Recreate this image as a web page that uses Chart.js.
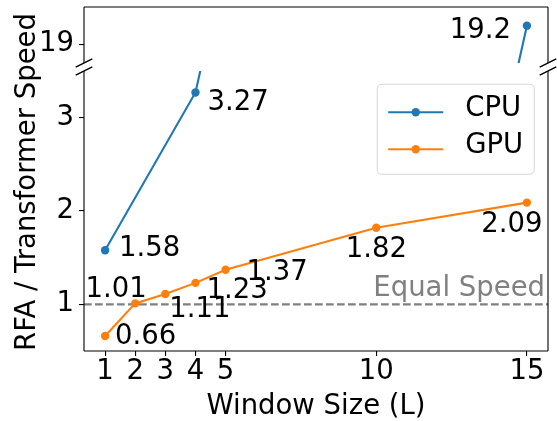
<!DOCTYPE html>
<html>
<head>
<meta charset="utf-8">
<script src="https://cdn.jsdelivr.net/npm/chart.js@4.4.1/dist/chart.umd.min.js"></script>
<style>
  html, body { margin: 0; padding: 0; background: #fff; }
  #wrap { position: relative; width: 557px; height: 421px; overflow: hidden; background: #fff; }
  #wrap canvas { position: absolute; left: 0; top: 0; }
</style>
</head>
<body>
<div id="wrap">
  <canvas id="lower" width="557" height="421"></canvas>
  <canvas id="upper" width="557" height="421"></canvas>
</div>
<script>
// ---------------- data ----------------
const seriesNames = ['CPU', 'GPU'];
const cpuWindows = [1, 4, 15];
const cpuSpeed = [1.58, 3.27, 19.2];
const gpuWindows = [1, 2, 3, 4, 5, 10, 15];
const gpuSpeed = [0.66, 1.01, 1.11, 1.23, 1.37, 1.82, 2.09];
const xTicks = [1, 2, 3, 4, 5, 10, 15];
const yTicksLower = [1, 2, 3];
const yTicksUpper = [19];
const equalSpeed = 1;
const refLabel = 'Equal Speed';
const xTitle = 'Window Size (L)';
const yTitle = 'RFA / Transformer Speed';
const xRange = [0.3, 15.7];
const lowerRange = [0.5, 3.5];
const upperRange = [18.8, 19.4];

// ---------------- style ----------------
const FONT = "'DejaVu Sans', sans-serif";
const FS = 27.5;
const CPU_C = '#1f77b4';
const GPU_C = '#ff7f0e';
const AXIS_W = 84;
// [dx, dy (to digit centre), align]
const cpuLabelStyle = [[14, -4, 'left'], [12, 8, 'left'], [-16, 2, 'right']];
const gpuLabelStyle = [[10, -2, 'left'], [-19, -16, 'center'], [4, 13, 'left'], [11, 5, 'left'], [21, 0, 'left'], [0, 19, 'center'], [-15, 19, 'center']];

Chart.defaults.font.family = FONT;

function makeDatasets() {
  const common = { borderWidth: 2.1, pointRadius: 4.2, pointHoverRadius: 4.2, pointBorderWidth: 0, tension: 0, clip: 0, fill: false };
  return [
    Object.assign({ label: seriesNames[0], data: cpuWindows.map((x, i) => ({ x: x, y: cpuSpeed[i] })),
      borderColor: CPU_C, backgroundColor: CPU_C, pointBackgroundColor: CPU_C, labelStyle: cpuLabelStyle }, common),
    Object.assign({ label: seriesNames[1], data: gpuWindows.map((x, i) => ({ x: x, y: gpuSpeed[i] })),
      borderColor: GPU_C, backgroundColor: GPU_C, pointBackgroundColor: GPU_C, labelStyle: gpuLabelStyle }, common)
  ];
}

function gridOpts() {
  return { display: true, drawOnChartArea: false, drawTicks: true, tickLength: 5, color: '#000', lineWidth: 1.1 };
}

function xScale(show) {
  return {
    type: 'linear', min: xRange[0], max: xRange[1], display: show,
    afterBuildTicks: s => { s.ticks = xTicks.map(v => ({ value: v })); },
    afterFit: s => { if (show) s.height = 70; s.paddingLeft = 0; s.paddingRight = 0; },
    ticks: { autoSkip: false, maxRotation: 0, minRotation: 0, padding: 2, color: '#000',
      font: { size: FS, lineHeight: 1 }, callback: v => String(v) },
    grid: gridOpts(),
    border: { display: false },
    title: { display: show, text: xTitle, color: '#000', font: { size: FS, lineHeight: 1 }, padding: { top: 0, bottom: 0 } }
  };
}

function yScale(range, ticks) {
  return {
    type: 'linear', min: range[0], max: range[1],
    afterBuildTicks: s => { s.ticks = ticks.map(v => ({ value: v })); },
    afterFit: s => { s.width = AXIS_W; s.paddingTop = 0; s.paddingBottom = 0; },
    ticks: { padding: 5, color: '#000', font: { size: FS, lineHeight: 1 }, callback: v => String(v) },
    grid: gridOpts(),
    border: { display: false }
  };
}

// spines + break marks
const spinePlugin = {
  id: 'spines',
  afterDatasetsDraw(chart, args, o) {
    const ctx = chart.ctx, a = chart.chartArea;
    ctx.save();
    ctx.strokeStyle = '#000';
    ctx.lineWidth = 1.1;
    ctx.beginPath();
    if (o.top) { ctx.moveTo(a.left, a.top); ctx.lineTo(a.right, a.top); }
    if (o.bottom) { ctx.moveTo(a.left, a.bottom); ctx.lineTo(a.right, a.bottom); }
    ctx.moveTo(a.left, a.top); ctx.lineTo(a.left, a.bottom);
    ctx.moveTo(a.right, a.top); ctx.lineTo(a.right, a.bottom);
    ctx.stroke();
    const yb = o.top ? a.bottom : a.top;
    ctx.lineWidth = 1.4;
    ctx.beginPath();
    [a.left, a.right].forEach(x => { ctx.moveTo(x - 8.3, yb + 4.2); ctx.lineTo(x + 8.3, yb - 4.2); });
    ctx.stroke();
    ctx.restore();
  }
};

// value labels
const valueLabelPlugin = {
  id: 'valueLabels',
  afterDatasetsDraw(chart) {
    const ctx = chart.ctx, ys = chart.scales.y;
    ctx.save();
    ctx.fillStyle = '#000';
    ctx.font = FS + 'px ' + FONT;
    ctx.textBaseline = 'alphabetic';
    chart.data.datasets.forEach((ds, i) => {
      const meta = chart.getDatasetMeta(i);
      ds.data.forEach((p, j) => {
        if (p.y < ys.min || p.y > ys.max) return;
        const el = meta.data[j];
        const st = ds.labelStyle[j];
        ctx.textAlign = st[2];
        ctx.fillText(String(p.y), el.x + st[0], el.y + st[1] + 0.3645 * FS);
      });
    });
    ctx.restore();
  }
};

// reference line
const refLinePlugin = {
  id: 'refLine',
  beforeDatasetsDraw(chart) {
    const ctx = chart.ctx, a = chart.chartArea;
    const y = chart.scales.y.getPixelForValue(equalSpeed);
    ctx.save();
    ctx.strokeStyle = '#808080';
    ctx.lineWidth = 2.1;
    ctx.setLineDash([7.7, 3.3]);
    ctx.beginPath();
    ctx.moveTo(a.left, y); ctx.lineTo(a.right, y);
    ctx.stroke();
    ctx.setLineDash([]);
    ctx.fillStyle = '#808080';
    ctx.font = FS + 'px ' + FONT;
    ctx.textAlign = 'right';
    ctx.textBaseline = 'alphabetic';
    ctx.fillText(refLabel, a.right - 3, y - 8);
    ctx.restore();
  }
};

// legend
const boxLegendPlugin = {
  id: 'boxLegend',
  afterDraw(chart) {
    const ctx = chart.ctx, a = chart.chartArea;
    ctx.save();
    ctx.font = FS + 'px ' + FONT;
    const dsets = chart.data.datasets;
    const textW = Math.max.apply(null, dsets.map(d => ctx.measureText(d.label).width));
    const pad = 0.4 * FS, hl = 2 * FS, htp = 0.8 * FS, axpad = 0.5 * FS;
    const w = 2 * pad + hl + htp + textW, h = 90;
    const x0 = a.right - axpad - w, y0 = a.top + axpad - 0.5;
    const r = 5;
    ctx.beginPath();
    ctx.moveTo(x0 + r, y0);
    ctx.lineTo(x0 + w - r, y0); ctx.quadraticCurveTo(x0 + w, y0, x0 + w, y0 + r);
    ctx.lineTo(x0 + w, y0 + h - r); ctx.quadraticCurveTo(x0 + w, y0 + h, x0 + w - r, y0 + h);
    ctx.lineTo(x0 + r, y0 + h); ctx.quadraticCurveTo(x0, y0 + h, x0, y0 + h - r);
    ctx.lineTo(x0, y0 + r); ctx.quadraticCurveTo(x0, y0, x0 + r, y0);
    ctx.closePath();
    ctx.fillStyle = 'rgba(255,255,255,0.8)';
    ctx.fill();
    ctx.strokeStyle = '#d6d6d6';
    ctx.lineWidth = 1;
    ctx.stroke();
    const lineYs = [28, 65], baseYs = [32, 68.5];
    dsets.forEach((d, i) => {
      const ly = y0 + lineYs[i];
      const lx = x0 + pad;
      ctx.strokeStyle = d.borderColor;
      ctx.lineWidth = 2.1;
      ctx.beginPath(); ctx.moveTo(lx, ly); ctx.lineTo(lx + hl, ly); ctx.stroke();
      ctx.fillStyle = d.borderColor;
      ctx.beginPath(); ctx.arc(lx + hl / 2, ly, 4.2, 0, Math.PI * 2); ctx.fill();
      ctx.fillStyle = '#000';
      ctx.textAlign = 'left';
      ctx.textBaseline = 'alphabetic';
      ctx.fillText(d.label, lx + hl + htp, y0 + baseYs[i]);
    });
    ctx.restore();
  }
};

// y title spanning both panels
const yTitlePlugin = {
  id: 'yTitle',
  afterDraw(chart) {
    const ctx = chart.ctx;
    ctx.save();
    ctx.translate(35, 182);
    ctx.rotate(-Math.PI / 2);
    ctx.fillStyle = '#000';
    ctx.font = FS + 'px ' + FONT;
    ctx.textAlign = 'center';
    ctx.textBaseline = 'alphabetic';
    ctx.fillText(yTitle, 0, 0);
    ctx.restore();
  }
};

const baseOpts = {
  responsive: false,
  animation: false,
  events: []
};

new Chart(document.getElementById('lower'), {
  type: 'line',
  data: { datasets: makeDatasets() },
  options: Object.assign({}, baseOpts, {
    layout: { padding: { left: 0, top: 71, right: 9, bottom: 0 } },
    scales: { x: xScale(true), y: yScale(lowerRange, yTicksLower) },
    plugins: { legend: { display: false }, tooltip: { enabled: false }, spines: { top: false, bottom: true } }
  }),
  plugins: [refLinePlugin, spinePlugin, valueLabelPlugin, boxLegendPlugin, yTitlePlugin]
});

new Chart(document.getElementById('upper'), {
  type: 'line',
  data: { datasets: makeDatasets() },
  options: Object.assign({}, baseOpts, {
    layout: { padding: { left: 0, top: 7, right: 9, bottom: 358 } },
    scales: { x: xScale(false), y: yScale(upperRange, yTicksUpper) },
    plugins: { legend: { display: false }, tooltip: { enabled: false }, spines: { top: true, bottom: false } }
  }),
  plugins: [spinePlugin, valueLabelPlugin]
});
</script>
</body>
</html>
